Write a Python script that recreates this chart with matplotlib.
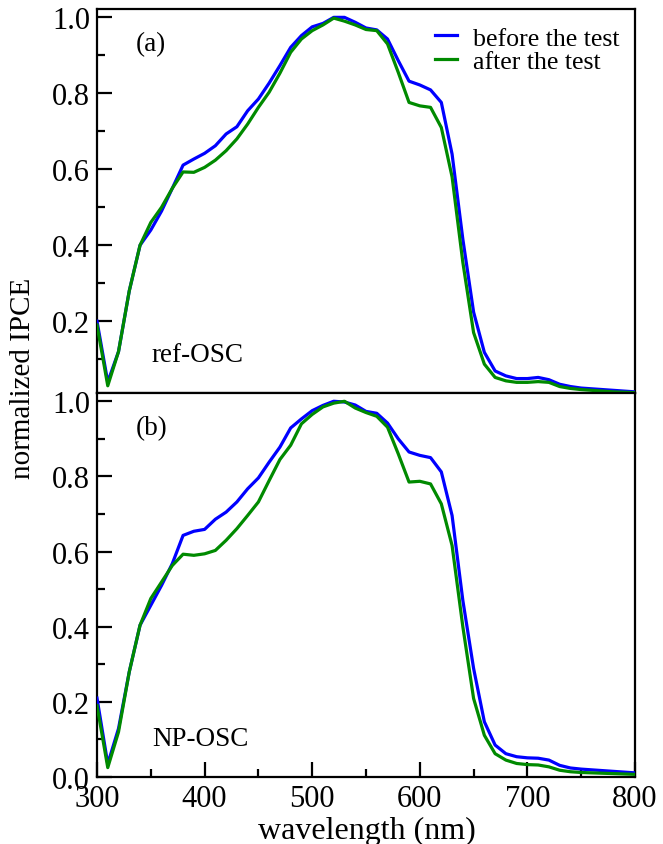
import matplotlib
matplotlib.use("Agg")
import matplotlib.pyplot as plt
from matplotlib.ticker import MultipleLocator

plt.rcParams['font.family'] = ['Liberation Serif', 'DejaVu Serif']

wavelength = [300, 310, 320, 330, 340, 350, 360, 370, 380, 390,
              400, 410, 420, 430, 440, 450, 460, 470, 480, 490,
              500, 510, 520, 530, 540, 550, 560, 570, 580, 590,
              600, 610, 620, 630, 640, 650, 660, 670, 680, 690,
              700, 710, 720, 730, 740, 750, 760, 770, 780, 790, 800]

ref_before = [0.20, 0.04, 0.12, 0.28, 0.40, 0.44, 0.49, 0.55, 0.611, 0.627,
              0.642, 0.662, 0.693, 0.712, 0.754, 0.785, 0.827, 0.873, 0.921, 0.952,
              0.975, 0.984, 1.0, 1.0, 0.987, 0.972, 0.967, 0.943, 0.886, 0.832,
              0.822, 0.809, 0.776, 0.64, 0.416, 0.224, 0.118, 0.069, 0.056, 0.049,
              0.049, 0.052, 0.046, 0.034, 0.028, 0.024, 0.022, 0.020, 0.018, 0.016, 0.014]
ref_after = [0.19, 0.03, 0.12, 0.28, 0.40, 0.46, 0.50, 0.55, 0.593, 0.592,
             0.605, 0.624, 0.649, 0.68, 0.719, 0.763, 0.803, 0.853, 0.908, 0.943,
             0.965, 0.98, 0.998, 0.99, 0.98, 0.968, 0.965, 0.93, 0.855, 0.776,
             0.767, 0.763, 0.71, 0.58, 0.355, 0.17, 0.087, 0.052, 0.043, 0.039,
             0.039, 0.041, 0.039, 0.028, 0.023, 0.020, 0.018, 0.016, 0.014, 0.013, 0.012]

np_before = [0.21, 0.035, 0.129, 0.28, 0.404, 0.457, 0.51, 0.568, 0.643, 0.654,
             0.659, 0.686, 0.705, 0.732, 0.767, 0.796, 0.838, 0.878, 0.929, 0.953,
             0.975, 0.989, 1.0, 0.998, 0.99, 0.973, 0.968, 0.942, 0.90, 0.865,
             0.856, 0.85, 0.812, 0.696, 0.47, 0.289, 0.147, 0.085, 0.062, 0.054,
             0.051, 0.05, 0.045, 0.031, 0.024, 0.021, 0.019, 0.017, 0.015, 0.013, 0.011]
np_after = [0.19, 0.025, 0.12, 0.28, 0.404, 0.475, 0.519, 0.563, 0.593, 0.59,
            0.594, 0.603, 0.63, 0.661, 0.696, 0.732, 0.789, 0.845, 0.883, 0.94,
            0.965, 0.985, 0.995, 1.0, 0.982, 0.97, 0.96, 0.931, 0.86, 0.785,
            0.787, 0.78, 0.727, 0.616, 0.40, 0.209, 0.111, 0.062, 0.045, 0.036,
            0.033, 0.032, 0.027, 0.018, 0.014, 0.012, 0.011, 0.010, 0.009, 0.008, 0.007]

series_labels = ["before the test", "after the test"]
panel_tags = ["(a)", "(b)"]
panel_names = ["ref-OSC", "NP-OSC"]

BLUE = "#0000ff"
GREEN = "#008a00"

W, H = 663, 845
fig = plt.figure(figsize=(W / 100, H / 100), dpi=100)
left = 97 / W
width = (635 - 97) / W
ax1 = fig.add_axes([left, 1 - 394 / H, width, (394 - 10) / H])
ax2 = fig.add_axes([left, 1 - 778 / H, width, (778 - 394) / H])

datasets = [(ref_before, ref_after), (np_before, np_after)]
for ax, (b, a), tag, name in zip([ax1, ax2], datasets, panel_tags, panel_names):
    ax.plot(wavelength, b, color=BLUE, lw=2.3, label=series_labels[0], zorder=3)
    ax.plot(wavelength, a, color=GREEN, lw=2.3, label=series_labels[1], zorder=3)
    ax.set_xlim(300, 800)
    for s in ax.spines.values():
        s.set_linewidth(1.6)
    ax.yaxis.set_major_locator(MultipleLocator(0.2))
    ax.yaxis.set_minor_locator(MultipleLocator(0.1))
    ax.xaxis.set_major_locator(MultipleLocator(100))
    ax.xaxis.set_minor_locator(MultipleLocator(50))
    ax.tick_params(axis='both', which='both', direction='in', width=1.6,
                   top=False, right=False, labelsize=22)
    ax.tick_params(axis='both', which='major', length=11, pad=5)
    ax.tick_params(axis='both', which='minor', length=5.5)
    ax.yaxis.set_major_formatter(matplotlib.ticker.FormatStrFormatter('%.1f'))
    ax.text(0.072, 0.91, tag, transform=ax.transAxes, fontsize=19.5, va='center', ha='left')
    ax.text(0.102, 0.10, name, transform=ax.transAxes, fontsize=19.5, va='center', ha='left')

ax1.set_ylim(0.011, 1.022)
ax2.set_ylim(0.0, 1.022)
ax1.tick_params(axis='x', which='both', bottom=False, labelbottom=False)
ax2.tick_params(axis='x', which='major', pad=5)

ax1.legend(loc='upper right', frameon=False, fontsize=18.6, handlelength=0.85,
           handletextpad=0.62, labelspacing=0.0, borderaxespad=0.2,
           bbox_to_anchor=(1.0, 0.995))

fig.text(23 / W, 1 - 378 / H, "normalized IPCE", rotation=90, fontsize=21,
         ha='center', va='center')
fig.text(367 / W, 1 - 831 / H, "wavelength (nm)", fontsize=23, ha='center', va='center')

fig.savefig("out.png", dpi=100)
